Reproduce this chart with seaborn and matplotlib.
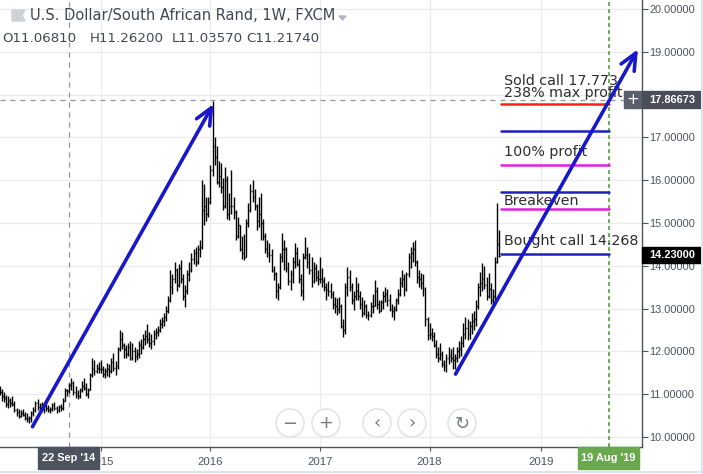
import matplotlib
matplotlib.use("Agg")
import matplotlib.pyplot as plt
import matplotlib.dates as mdates
from matplotlib.patches import Rectangle, Circle, Polygon
import pandas as pd
import seaborn as sns

# ---------------- data ----------------
first_week = "2014-02-03"
last_week = "2018-08-20"
first_open = 11.10

high_2014 = [11.20, 11.12, 11.05, 10.98, 10.95, 10.90, 10.95, 10.85, 10.68, 10.65, 10.62, 10.66,
             10.58, 10.55, 10.50, 10.60, 10.70, 10.85, 10.88, 10.80, 10.82, 10.78, 10.85, 10.75,
             10.70, 10.80, 10.82, 10.72, 10.75, 10.78, 10.90, 11.15, 11.12, 11.262, 11.38, 11.30,
             11.20, 11.10, 11.15, 11.30, 11.38, 11.25, 11.15, 11.50, 11.85, 11.80, 11.70, 11.75]
low_2014 = [10.98, 10.85, 10.82, 10.70, 10.68, 10.70, 10.72, 10.58, 10.50, 10.45, 10.46, 10.48,
            10.40, 10.35, 10.33, 10.35, 10.48, 10.58, 10.62, 10.60, 10.62, 10.55, 10.60, 10.58,
            10.55, 10.60, 10.62, 10.56, 10.58, 10.60, 10.62, 10.85, 10.95, 11.0357, 11.10, 10.98,
            10.90, 10.88, 10.90, 11.05, 11.10, 10.95, 10.92, 11.10, 11.40, 11.45, 11.50, 11.50]
close_2014 = [11.05, 10.95, 10.90, 10.78, 10.85, 10.80, 10.76, 10.62, 10.58, 10.50, 10.55, 10.52,
              10.45, 10.42, 10.45, 10.55, 10.62, 10.80, 10.70, 10.75, 10.65, 10.72, 10.68, 10.62,
              10.65, 10.75, 10.68, 10.62, 10.70, 10.68, 10.85, 11.10, 11.0681, 11.2174, 11.25, 11.05,
              11.00, 10.95, 11.10, 11.20, 11.15, 11.00, 11.10, 11.45, 11.60, 11.55, 11.62, 11.58]

high_2015 = [11.80, 11.65, 11.62, 11.72, 11.70, 11.85, 11.96, 11.78, 12.10, 12.50, 12.45, 12.20,
             12.15, 12.20, 12.25, 12.20, 12.10, 12.05, 12.25, 12.30, 12.40, 12.50, 12.65, 12.45,
             12.40, 12.50, 12.55, 12.60, 12.75, 12.80, 12.90, 13.05, 13.30, 13.90, 13.80, 14.10,
             13.95, 14.05, 14.13, 13.80, 13.55, 13.90, 14.10, 14.30, 14.40, 14.45, 14.49, 14.60,
             16.00, 15.90, 15.60, 15.60]
low_2015 = [11.50, 11.40, 11.38, 11.42, 11.40, 11.50, 11.55, 11.45, 11.60, 12.00, 12.05, 11.85,
            11.85, 11.90, 11.80, 11.80, 11.75, 11.80, 11.85, 11.95, 12.05, 12.15, 12.20, 12.10,
            12.05, 12.15, 12.30, 12.35, 12.45, 12.55, 12.60, 12.70, 12.90, 13.15, 13.35, 13.60,
            13.40, 13.50, 13.60, 13.20, 13.04, 13.35, 13.65, 13.85, 14.05, 14.00, 14.05, 14.20,
            14.40, 14.95, 15.05, 15.15]
close_2015 = [11.60, 11.48, 11.55, 11.60, 11.55, 11.75, 11.62, 11.65, 12.05, 12.30, 12.15, 12.05,
              11.95, 12.10, 11.85, 12.00, 11.90, 11.95, 12.15, 12.10, 12.30, 12.35, 12.30, 12.20,
              12.25, 12.40, 12.45, 12.50, 12.65, 12.70, 12.80, 12.95, 13.20, 13.50, 13.70, 13.90,
              13.55, 13.95, 13.70, 13.30, 13.40, 13.80, 13.90, 14.15, 14.30, 14.10, 14.40, 14.45,
              15.30, 15.40, 15.20, 15.50]

high_2016 = [16.35, 17.85, 17.00, 16.80, 16.45, 16.40, 16.05, 16.30, 16.10, 15.70, 16.24, 15.60,
             15.30, 15.14, 14.95, 14.70, 14.75, 15.10, 15.47, 15.90, 16.00, 15.80, 15.45, 15.60,
             15.70, 15.10, 14.77, 14.60, 14.53, 14.40, 14.00, 13.85, 13.60, 14.30, 14.77, 14.60,
             14.45, 14.10, 13.90, 14.20, 14.53, 14.45, 14.15, 13.80, 14.30, 14.67, 14.45, 14.30,
             14.20, 14.10, 14.05, 13.90]
low_2016 = [15.45, 16.10, 16.35, 15.90, 15.85, 15.70, 15.30, 15.35, 15.10, 15.07, 15.20, 15.10,
            14.60, 14.65, 14.35, 14.15, 14.13, 14.20, 14.90, 15.25, 15.50, 15.30, 14.84, 14.90,
            14.60, 14.60, 14.30, 14.20, 14.10, 13.85, 13.67, 13.25, 13.20, 13.45, 14.10, 13.90,
            13.85, 13.55, 13.43, 13.60, 13.95, 14.00, 13.60, 13.30, 13.20, 14.15, 13.95, 13.80,
            13.50, 13.60, 13.65, 13.55]
close_2016 = [16.25, 16.80, 16.55, 15.95, 16.10, 15.85, 15.40, 16.00, 15.20, 15.40, 15.40, 15.25,
              14.70, 14.95, 14.40, 14.30, 14.20, 15.00, 15.30, 15.75, 15.60, 15.40, 15.05, 15.20,
              15.00, 14.70, 14.40, 14.30, 14.25, 13.90, 13.80, 13.40, 13.50, 14.20, 14.40, 14.40,
              13.95, 13.65, 13.80, 14.10, 14.30, 14.05, 13.70, 13.40, 14.20, 14.25, 14.10, 13.90,
              13.65, 13.95, 13.75, 13.70]

high_2017 = [14.20, 13.95, 13.74, 13.60, 13.65, 13.60, 13.40, 13.27, 13.25, 13.27, 13.10, 12.75,
             13.60, 13.97, 13.90, 13.60, 13.40, 13.74, 13.60, 13.40, 13.27, 13.20, 13.10, 12.95,
             13.15, 13.35, 13.67, 13.50, 13.20, 13.20, 13.40, 13.50, 13.45, 13.35, 13.10, 13.05,
             13.25, 13.45, 13.75, 13.90, 13.80, 13.85, 14.30, 14.44, 14.55, 14.60, 14.13, 13.90,
             13.83, 13.80, 13.50, 12.80]
low_2017 = [13.60, 13.50, 13.40, 13.20, 13.30, 13.25, 13.00, 12.90, 12.85, 12.90, 12.55, 12.34,
            12.40, 13.30, 13.40, 13.10, 12.97, 13.20, 13.20, 13.00, 12.80, 12.85, 12.78, 12.73,
            12.80, 12.90, 13.05, 13.00, 12.90, 12.95, 13.00, 13.15, 13.05, 12.95, 12.80, 12.73,
            12.95, 13.10, 13.30, 13.50, 13.30, 13.40, 13.75, 13.95, 14.10, 14.00, 13.60, 13.50,
            13.45, 13.30, 12.60, 12.27]
close_2017 = [13.70, 13.65, 13.50, 13.45, 13.40, 13.35, 13.10, 13.05, 13.00, 13.05, 12.60, 12.50,
              13.50, 13.75, 13.50, 13.20, 13.30, 13.40, 13.30, 13.10, 12.90, 13.05, 12.85, 12.85,
              13.05, 13.05, 13.40, 13.10, 12.95, 13.15, 13.30, 13.35, 13.20, 13.00, 12.95, 13.00,
              13.20, 13.35, 13.60, 13.70, 13.45, 13.80, 14.20, 14.30, 14.40, 14.10, 13.75, 13.70,
              13.60, 13.45, 12.75, 12.38]

high_2018 = [12.66, 12.55, 12.45, 12.27, 12.10, 12.20, 12.00, 11.80, 11.95, 12.10, 12.05, 12.10,
             11.95, 12.10, 12.25, 12.35, 12.66, 12.80, 12.75, 12.70, 12.90, 12.95, 13.20, 13.60,
             13.85, 14.06, 14.00, 13.75, 13.83, 13.60, 13.45, 14.20, 15.47, 14.84]
low_2018 = [12.30, 12.25, 12.10, 11.85, 11.75, 11.80, 11.64, 11.55, 11.52, 11.70, 11.75, 11.60,
            11.60, 11.75, 11.85, 11.90, 12.10, 12.30, 12.27, 12.30, 12.40, 12.50, 12.60, 13.00,
            13.30, 13.40, 13.45, 13.20, 13.25, 13.10, 13.08, 13.20, 14.07, 14.20]
close_2018 = [12.40, 12.35, 12.15, 11.95, 11.85, 11.95, 11.70, 11.65, 11.85, 11.90, 11.85, 11.80,
              11.85, 12.00, 12.05, 12.20, 12.40, 12.55, 12.40, 12.60, 12.70, 12.75, 13.05, 13.50,
              13.60, 13.70, 13.55, 13.30, 13.45, 13.20, 13.30, 14.10, 14.50, 14.23]

# option levels drawn on the chart
level_prices = [17.773, 17.15, 16.36, 15.72, 15.33, 14.268]
level_kinds = ["red", "blue", "magenta", "blue", "magenta", "blue"]
level_start = "2018-08-26"
expiry_date = "2019-08-19"
level_labels = ["Sold call 17.773", "238% max profit", "100% profit", "Breakeven", "Bought call 14.268"]
label_prices = [18.22, 17.94, 16.57, 15.42, 14.49]
label_date = "2018-09-04"

# trend arrows (date, price)
arrow_starts = [("2014-05-23", 10.24), ("2018-03-28", 11.47)]
arrow_ends = [("2016-01-14", 17.78), ("2019-11-24", 19.06)]

crosshair_date = "2014-09-22"
crosshair_price = 17.86673
last_price = 14.23
ohlc_keys = ["O", "H", "L", "C"]
ohlc_vals = ["11.06810", "11.26200", "11.03570", "11.21740"]
title = "U.S. Dollar/South African Rand, 1W, FXCM"
year_ticks = ["2015-01-05", "2016-01-04", "2017-01-02", "2018-01-01", "2019-01-07"]
year_labels = ["2015", "2016", "2017", "2018", "2019"]
price_ticks = list(range(10, 21))

# ---------------- build ----------------
dates = pd.date_range(first_week, last_week, freq="W-MON")
highs = high_2014 + high_2015 + high_2016 + high_2017 + high_2018
lows = low_2014 + low_2015 + low_2016 + low_2017 + low_2018
closes = close_2014 + close_2015 + close_2016 + close_2017 + close_2018
opens = [first_open] + closes[:-1]
df = pd.DataFrame({"date": dates, "open": opens, "high": highs, "low": lows, "close": closes})

sns.set_theme(style="white")
plt.rcParams["font.family"] = ["DejaVu Sans"]

W, H = 703, 474
fig = plt.figure(figsize=(W / 100, H / 100), dpi=100)
fig.patch.set_facecolor("white")
ax = fig.add_axes([0, 27 / H, 642 / W, 447 / H])

x_left = pd.Timestamp("2014-02-04 04:00")
x_right = x_left + pd.Timedelta(days=642 / 0.3011)
ax.set_xlim(mdates.date2num(x_left), mdates.date2num(x_right))
ax.set_ylim(10 - 10 / 42.8, 10 + 437 / 42.8)

GRID = "#ebebed"
AXC = "#50535e"
TXT = "#4c525e"
BLUE = "#1818c8"
col = {"red": "#ff1f1f", "blue": "#1f1fc0", "magenta": "#e21ee2"}

# grid
ax.set_yticks(price_ticks)
ax.set_xticks([mdates.date2num(pd.Timestamp(d)) for d in year_ticks])
ax.grid(True, color=GRID, lw=0.9)
ax.set_axisbelow(True)

# OHLC bars
xd = mdates.date2num(df["date"])
ax.vlines(xd, df["low"], df["high"], color="black", lw=1.0, zorder=3)
ax.hlines(df["open"], xd - 3, xd, color="black", lw=1.0, zorder=3)
ax.hlines(df["close"], xd, xd + 3, color="black", lw=1.0, zorder=3)

# crosshair
ax.axvline(mdates.date2num(pd.Timestamp(crosshair_date)), color="#8f929a", lw=0.9,
           ls=(0, (4, 4)), zorder=2)
ax.axhline(crosshair_price, color="#8f929a", lw=0.9, ls=(0, (4, 4)), zorder=2)

# expiry line
ax.axvline(mdates.date2num(pd.Timestamp(expiry_date)), color="#6aae55", lw=1.4,
           ls=(0, (2, 1.6)), zorder=2)

# option level lines (seaborn)
for p, k in zip(level_prices, level_kinds):
    seg = pd.DataFrame({"x": [mdates.date2num(pd.Timestamp(level_start)),
                              mdates.date2num(pd.Timestamp(expiry_date))],
                        "y": [p, p]})
    sns.lineplot(data=seg, x="x", y="y", color=col[k], lw=1.8, ax=ax, zorder=4)

for t, p in zip(level_labels, label_prices):
    ax.text(mdates.date2num(pd.Timestamp(label_date)), p, t, fontsize=10.3, color="#2d2d2d",
            va="baseline", ha="left", zorder=5)

# arrows
for (d0, p0), (d1, p1) in zip(arrow_starts, arrow_ends):
    ax.annotate("", xy=(mdates.date2num(pd.Timestamp(d1)), p1),
                xytext=(mdates.date2num(pd.Timestamp(d0)), p0),
                arrowprops=dict(arrowstyle="->,head_length=1.0,head_width=0.45",
                                lw=2.6, color=BLUE, shrinkA=0, shrinkB=0),
                zorder=6, annotation_clip=False)

# axes styling
ax.set_xlabel("")
ax.set_ylabel("")
for s in ["left", "top"]:
    ax.spines[s].set_visible(False)
for s in ["right", "bottom"]:
    ax.spines[s].set_visible(True)
    ax.spines[s].set_color(AXC)
    ax.spines[s].set_linewidth(1.0)
ax.yaxis.tick_right()
ax.yaxis.set_major_formatter(matplotlib.ticker.FuncFormatter(lambda v, _: f"{v:.5f}"))
ax.set_xticklabels(year_labels)
ax.tick_params(axis="y", length=4, width=0.8, color=AXC, pad=1.5, labelsize=7.9,
               labelcolor=TXT, left=False, right=True, labelleft=False, labelright=True)
ax.tick_params(axis="x", length=3, width=0.8, color=AXC, pad=4, labelsize=8.2, labelcolor=TXT,
               bottom=True)
for lbl in ax.get_yticklabels() + ax.get_xticklabels():
    lbl.set_fontfamily(["Liberation Sans", "DejaVu Sans"])

# ---------------- overlay in pixel space ----------------
ov = fig.add_axes([0, 0, 1, 1], zorder=10)
ov.set_xlim(0, W)
ov.set_ylim(H, 0)
ov.axis("off")
ov.patch.set_alpha(0)

# title block
ov.add_patch(Polygon([[12, 10], [25, 10], [22, 15.5], [25, 21], [12, 21]], closed=True,
                     color="#cfd1d4"))
ov.text(30, 15.5, title, fontsize=10.5, color="#434651", va="center", ha="left")
ov.add_patch(Polygon([[339, 16], [346, 16], [342.5, 20]], closed=True, color="#b2b5be"))
ohlc_x = [2, 90, 172, 246]
for xx, k, v in zip(ohlc_x, ohlc_keys, ohlc_vals):
    ov.text(xx, 38, k + v, fontsize=9.6, color="#434651", va="center", ha="left")

# nav buttons
for cx, sym in zip([290, 326, 377, 412, 462], ["−", "+", "‹", "›", "↻"]):
    ov.add_patch(Circle((cx, 423), 14, facecolor="white", edgecolor="#e3e4e8", lw=1.2))
    ov.text(cx, 423.5, sym, fontsize=13, color="#787b86", ha="center", va="center")

# price labels on the right
ov.add_patch(Rectangle((624, 91), 17, 16.5, color="#5b5f6b"))
ov.text(632.5, 99.3, "+", fontsize=11, color="white", ha="center", va="center")
ov.add_patch(Rectangle((642, 91), 61, 16.5, color="#4a4e5a"))
ov.text(672.5, 99.5, f"{crosshair_price:.5f}", fontsize=7.9, color="white", ha="center",
        va="center", fontweight="bold", family=["Liberation Sans", "DejaVu Sans"])
ov.add_patch(Rectangle((642, 247), 61, 15.5, color="black"))
ov.text(672.5, 255, f"{last_price:.5f}", fontsize=7.9, color="white", ha="center",
        va="center", fontweight="bold", family=["Liberation Sans", "DejaVu Sans"])

# date labels on the bottom
ov.add_patch(Rectangle((38, 447), 61, 22, color="#4c525e"))
ov.text(68.5, 458, "22 Sep '14", fontsize=7.9, color="white", ha="center", va="center",
        fontweight="bold", family=["Liberation Sans", "DejaVu Sans"])
ov.add_patch(Rectangle((578, 447), 61, 22, color="#6aa84f"))
ov.text(608.5, 458, "19 Aug '19", fontsize=7.9, color="white", ha="center", va="center",
        fontweight="bold", family=["Liberation Sans", "DejaVu Sans"])

# frame strips
ov.plot([0, W], [471.5, 471.5], color="#e0e3eb", lw=1.5)
ov.plot([701.5, 701.5], [0, H], color="#e0e3eb", lw=1.5)

fig.savefig("out.png", dpi=100)
